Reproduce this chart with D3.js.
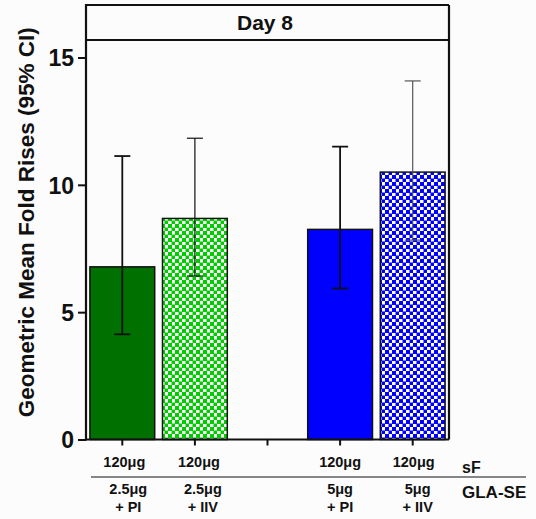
<!DOCTYPE html>
<html>
<head>
<meta charset="utf-8">
<script src="https://cdn.jsdelivr.net/npm/d3@7"></script>
<style>
  html, body { margin: 0; padding: 0; background: #fcfcfc; }
  svg { display: block; font-family: "Liberation Sans", Arial, sans-serif; }
</style>
</head>
<body>
<svg id="chart" width="536" height="519"></svg>
<script>
// Day 8 geometric mean fold rises with 95% CI per formulation
const slots = ["s1", "s2", "gap", "s3", "s4"];
const barSlots = ["s1", "s2", "s3", "s4"];
const sfDose = ["120μg", "120μg", "120μg", "120μg"];
const glaDose = ["2.5μg", "2.5μg", "5μg", "5μg"];
const vaccine = ["+ PI", "+ IIV", "+ PI", "+ IIV"];
const gmfr = [6.78, 8.68, 8.25, 10.5];
const ciLow = [4.13, 6.42, 5.93, 7.83];
const ciHigh = [11.13, 11.83, 11.5, 14.08];
const yTicks = [0, 5, 10, 15];
const panelTitle = "Day 8";
const yTitle = "Geometric Mean Fold Rises (95% CI)";
const rowNames = ["sF", "GLA-SE"];

const svg = d3.select("#chart");

const left = 86, right = 449, frameTop = 5, headerBottom = 40, bottom = 439.5;

const x = d3.scaleBand().domain(slots).range([left, right]).paddingInner(0.08).paddingOuter(0.04);
const y = d3.scaleLinear().domain([0, 15]).range([bottom, 57.5]);

// checker patterns
const defs = svg.append("defs");
function checker(id, color) {
  const p = defs.append("pattern").attr("id", id)
    .attr("patternUnits", "userSpaceOnUse").attr("width", 7).attr("height", 7);
  p.append("rect").attr("width", 7).attr("height", 7).attr("fill", "#ffffff");
  p.append("rect").attr("x", 0).attr("y", 0).attr("width", 4).attr("height", 4).attr("fill", color);
  p.append("rect").attr("x", 3.5).attr("y", 3.5).attr("width", 4).attr("height", 4).attr("fill", color);
}
checker("chkGreen", "#00cc00");
checker("chkBlue", "#0000ff");
const fills = ["#007000", "url(#chkGreen)", "#0000ff", "url(#chkBlue)"];

// bars
svg.append("g").selectAll("rect").data(gmfr).join("rect")
  .attr("x", (d, i) => x(barSlots[i]) + 1)
  .attr("width", x.bandwidth() - 2)
  .attr("y", d => y(d))
  .attr("height", d => y(0) - y(d))
  .attr("fill", (d, i) => fills[i])
  .attr("stroke", "#111")
  .attr("stroke-width", 1.5);

// error bars
const eb = svg.append("g").selectAll("g").data(gmfr).join("g")
  .attr("stroke", (d, i) => i === 3 ? "#555" : "#111")
  .attr("stroke-width", (d, i) => (i % 2 === 0 ? 1.8 : 1.2));
const cx = i => x(barSlots[i]) + x.bandwidth() / 2;
eb.append("line")
  .attr("x1", (d, i) => cx(i)).attr("x2", (d, i) => cx(i))
  .attr("y1", (d, i) => y(ciLow[i])).attr("y2", (d, i) => y(ciHigh[i]));
eb.append("line")
  .attr("x1", (d, i) => cx(i) - 8).attr("x2", (d, i) => cx(i) + 8)
  .attr("y1", (d, i) => y(ciHigh[i])).attr("y2", (d, i) => y(ciHigh[i]));
eb.append("line")
  .attr("x1", (d, i) => cx(i) - 8).attr("x2", (d, i) => cx(i) + 8)
  .attr("y1", (d, i) => y(ciLow[i])).attr("y2", (d, i) => y(ciLow[i]));

// frame and header
const frame = svg.append("g").attr("stroke", "#111").attr("fill", "none");
frame.append("line").attr("x1", left).attr("x2", right).attr("y1", frameTop).attr("y2", frameTop).attr("stroke-width", 1.8);
frame.append("line").attr("x1", left).attr("x2", right).attr("y1", headerBottom).attr("y2", headerBottom).attr("stroke-width", 2.2);
frame.append("line").attr("x1", right).attr("x2", right).attr("y1", frameTop).attr("y2", bottom).attr("stroke-width", 2.2);
frame.append("line").attr("x1", left).attr("x2", left).attr("y1", frameTop - 1).attr("y2", headerBottom).attr("stroke-width", 2.2);

svg.append("text").attr("x", 265).attr("y", 30)
  .attr("text-anchor", "middle").attr("font-weight", "bold").attr("font-size", 21)
  .attr("fill", "#111").text(panelTitle);

// y axis
const yAxis = svg.append("g").attr("transform", `translate(${left},0)`)
  .call(d3.axisLeft(y).tickValues(yTicks).tickSize(8).tickPadding(4).tickSizeOuter(0));
yAxis.select(".domain").attr("d", `M0,${headerBottom}V${bottom + 1}`).attr("stroke", "#111").attr("stroke-width", 2.2);
yAxis.selectAll(".tick line").attr("stroke", "#111").attr("stroke-width", 2);
yAxis.selectAll(".tick text").attr("font-size", 23).attr("font-weight", "bold")
  .attr("fill", "#111").attr("font-family", "Liberation Sans, Arial, sans-serif").attr("dy", "0.36em");

// x axis
const xAxis = svg.append("g").attr("transform", `translate(0,${bottom})`)
  .call(d3.axisBottom(x).tickSize(6).tickSizeOuter(0).tickFormat(""));
xAxis.select(".domain").attr("d", `M${left},0H${right}`).attr("stroke", "#111").attr("stroke-width", 2.2);
xAxis.selectAll(".tick line").attr("stroke", "#111").attr("stroke-width", 2);

// y title
svg.append("text")
  .attr("transform", `translate(34,${(frameTop + bottom) / 2}) rotate(-90)`)
  .attr("text-anchor", "middle").attr("font-weight", "bold").attr("font-size", 22.5)
  .attr("fill", "#111").text(yTitle);

// category rows under the axis
const lab = svg.append("g").attr("font-weight", "bold").attr("fill", "#111").attr("text-anchor", "middle");
lab.selectAll("text.sf").data(sfDose).join("text").attr("class", "sf")
  .attr("x", (d, i) => cx(i) + [2, 4, 0, 1][i]).attr("y", 467).attr("font-size", 14.5).text(d => d);
lab.selectAll("text.gla").data(glaDose).join("text").attr("class", "gla")
  .attr("x", (d, i) => cx(i) + [6, 8, 0, 5][i]).attr("y", 494).attr("font-size", 14.5).text(d => d);
lab.selectAll("text.vac").data(vaccine).join("text").attr("class", "vac")
  .attr("x", (d, i) => cx(i) + [6, 8, 0, 5][i]).attr("y", 512).attr("font-size", 14.5).text(d => d);

svg.append("line").attr("x1", 91).attr("x2", 526).attr("y1", 477).attr("y2", 477)
  .attr("stroke", "#111").attr("stroke-width", 1.2);

svg.append("text").attr("x", 462).attr("y", 473).attr("font-weight", "bold").attr("font-size", 16)
  .attr("fill", "#111").text(rowNames[0]);
svg.append("text").attr("x", 462).attr("y", 498).attr("font-weight", "bold").attr("font-size", 17)
  .attr("fill", "#111").text(rowNames[1]);
</script>
</body>
</html>
